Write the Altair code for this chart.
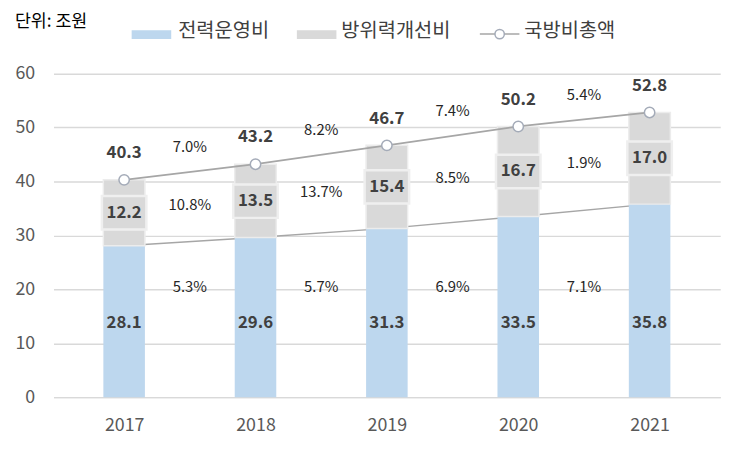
import altair as alt
import pandas as pd

years = [2017, 2018, 2019, 2020, 2021]
ops = [28.1, 29.6, 31.3, 33.5, 35.8]          # 전력운영비
dev = [12.2, 13.5, 15.4, 16.7, 17.0]          # 방위력개선비
total = [40.3, 43.2, 46.7, 50.2, 52.8]        # 국방비총액
ops_growth = [5.3, 5.7, 6.9, 7.1]
dev_growth = [10.8, 13.7, 8.5, 1.9]
total_growth = [7.0, 8.2, 7.4, 5.4]
legend_labels = ["전력운영비", "방위력개선비", "국방비총액"]
unit_label = "단위: 조원"

FONT = "Noto Sans CJK KR"
BLUE = "#bdd7ee"
GRAY = "#d9d9d9"
LINE = "#a6a6a6"
TXT = "#404040"

df = pd.DataFrame({"year": years, "ops": ops, "dev": dev, "total": total})
df["dev_mid"] = df["ops"] + df["dev"] / 2
df["ops_lbl"] = df["ops"].map(lambda v: f"{v:.1f}")
df["dev_lbl"] = df["dev"].map(lambda v: f"{v:.1f}")
df["tot_lbl"] = df["total"].map(lambda v: f"{v:.1f}")
df["ops_lbl_y"] = 13.8
df["box_lo"] = df["dev_mid"] - 3.1
df["box_hi"] = df["dev_mid"] + 3.1

mids = [y + 0.5 for y in years[:-1]]
g = pd.DataFrame({
    "x": mids,
    "ops_g": [f"{v:.1f}%" for v in ops_growth],
    "dev_g": [f"{v:.1f}%" for v in dev_growth],
    "tot_g": [f"{v:.1f}%" for v in total_growth],
})
g["ops_y"] = 20.5
g["dev_y"] = [(df["dev_mid"][i] + df["dev_mid"][i + 1]) / 2 + 0.3 for i in range(4)]
g["tot_y"] = [(total[i] + total[i + 1]) / 2 + 4.6 for i in range(4)]

xs = alt.Scale(domain=[2016.5, 2021.5], nice=False, zero=False)
ys = alt.Scale(domain=[0, 60], nice=False)

X = alt.X("year:Q", scale=xs, title=None,
          axis=alt.Axis(values=years, format="d", grid=False, ticks=False,
                        domainColor=GRAY, domainWidth=1.5, labelPadding=20))
Yaxis = alt.Axis(values=[0, 10, 20, 30, 40, 50, 60], domain=False, ticks=False,
                 grid=True, gridColor=GRAY, gridWidth=1.5, labelPadding=19)

base = alt.Chart(df)

ops_line = base.mark_line(color=LINE, strokeWidth=1.5).encode(
    x=X, y=alt.Y("ops:Q", scale=ys, title=None, axis=Yaxis))

ops_bar = base.mark_bar(size=42, color=BLUE).encode(
    x=X, y=alt.Y("ops:Q", scale=ys), y2=alt.datum(0))

dev_bar = base.mark_bar(size=42, color=GRAY, stroke="#ececec", strokeWidth=1.5).encode(
    x=X, y=alt.Y("ops:Q", scale=ys), y2="total:Q")

box = base.mark_bar(size=45, color=GRAY, stroke="#efefef", strokeWidth=2.5).encode(
    x=X, y=alt.Y("box_lo:Q", scale=ys), y2="box_hi:Q")

tot_line = base.mark_line(color=LINE, strokeWidth=1.8).encode(
    x=X, y=alt.Y("total:Q", scale=ys))
tot_pts = base.mark_point(shape="circle", size=110, filled=True, fill="white",
                          stroke="#a4abb8", strokeWidth=1.5, opacity=1).encode(
    x=X, y=alt.Y("total:Q", scale=ys))

ops_txt = base.mark_text(font=FONT, fontSize=17, fontWeight="bold", color=TXT,
                         baseline="middle").encode(
    x=X, y=alt.Y("ops_lbl_y:Q", scale=ys), text="ops_lbl:N")
dev_txt = base.mark_text(font=FONT, fontSize=17, fontWeight="bold", color=TXT,
                         baseline="middle").encode(
    x=X, y=alt.Y("dev_mid:Q", scale=ys), text="dev_lbl:N")
tot_txt = base.mark_text(font=FONT, fontSize=17, fontWeight="bold", color=TXT,
                         baseline="middle", dy=-27).encode(
    x=X, y=alt.Y("total:Q", scale=ys), text="tot_lbl:N")

gb = alt.Chart(g)
GX = alt.X("x:Q", scale=xs)
pct_style = dict(font=FONT, fontSize=15, color="#262626", baseline="middle")
g1 = gb.mark_text(**pct_style).encode(x=GX, y=alt.Y("ops_y:Q", scale=ys), text="ops_g:N")
g2 = gb.mark_text(**pct_style).encode(x=GX, y=alt.Y("dev_y:Q", scale=ys), text="dev_g:N")
g3 = gb.mark_text(**pct_style).encode(x=GX, y=alt.Y("tot_y:Q", scale=ys), text="tot_g:N")

# legend (drawn above the plot area)
one = alt.Chart(pd.DataFrame({"a": [0]}))
leg_font = dict(font=FONT, fontSize=20, color="#404040", baseline="middle", align="left")
unit = one.mark_text(font=FONT, fontSize=17.5, color="#000000", baseline="middle",
                     align="left").encode(x=alt.value(-39), y=alt.value(-52),
                                          text=alt.value(unit_label))
sw1 = one.mark_rect(color=BLUE).encode(x=alt.value(79), x2=alt.value(119),
                                       y=alt.value(-44), y2=alt.value(-35))
lt1 = one.mark_text(**leg_font).encode(x=alt.value(126), y=alt.value(-43),
                                       text=alt.value(legend_labels[0]))
sw2 = one.mark_rect(color=GRAY).encode(x=alt.value(246), x2=alt.value(286),
                                       y=alt.value(-44), y2=alt.value(-35))
lt2 = one.mark_text(**leg_font).encode(x=alt.value(291), y=alt.value(-43),
                                       text=alt.value(legend_labels[1]))
sl3 = one.mark_rule(color=LINE, strokeWidth=1.5).encode(
    x=alt.value(431), x2=alt.value(471), y=alt.value(-40))
sp3 = one.mark_point(shape="circle", size=90, filled=True, fill="white",
                     stroke="#a4abb8", strokeWidth=1.5, opacity=1).encode(
    x=alt.value(451), y=alt.value(-40))
lt3 = one.mark_text(**leg_font).encode(x=alt.value(476), y=alt.value(-43),
                                       text=alt.value(legend_labels[2]))

chart = alt.layer(
    ops_line, ops_bar, dev_bar, box, tot_line, tot_pts,
    ops_txt, dev_txt, tot_txt, g1, g2, g3,
    unit, sw1, lt1, sw2, lt2, sl3, sp3, lt3,
).properties(
    width=674, height=327, autosize="none",
    padding={"left": 46, "top": 64, "right": 22, "bottom": 44},
).configure_view(stroke=None).configure_axis(
    labelFont=FONT, labelFontSize=18, labelColor="#595959"
)

chart.save("out.html", embed_options={"renderer": "svg", "actions": False})
